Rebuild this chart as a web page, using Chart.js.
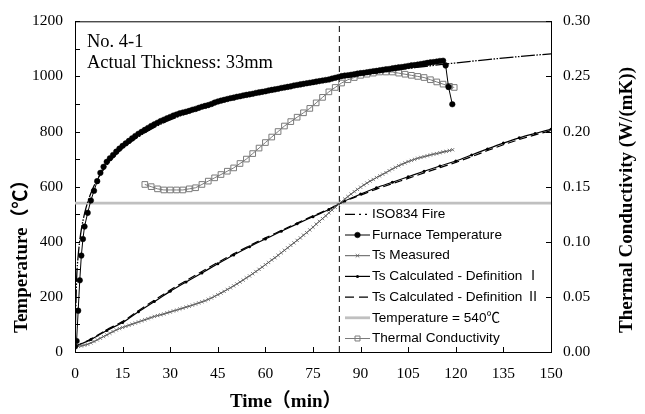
<!DOCTYPE html>
<html>
<head>
<meta charset="utf-8">
<script src="https://cdn.jsdelivr.net/npm/chart.js@4.4.0/dist/chart.umd.min.js"></script>
<style>
  html, body { margin: 0; padding: 0; background: #fff; }
  #wrap { width: 645px; height: 414px; }
</style>
</head>
<body>
<div id="wrap"><canvas id="chart" width="645" height="414"></canvas></div>
<script>
// ---- data (time in min, temperature in °C, conductivity in W/(mK)) ----
const isoTime = [0, 0.5, 1, 1.5, 2, 3, 4, 5, 6, 8, 10, 12, 15, 20, 25, 30, 40, 50, 60, 70, 80, 90, 100, 110, 120, 130, 140, 150];
const isoTemp = [20, 261, 349, 404, 445, 502, 544, 576, 603, 645, 678, 705, 739, 781, 815, 842, 885, 918, 945, 968, 988, 1006, 1022, 1036, 1049, 1061, 1072, 1082];

const furnaceTime = [0, 0.5, 1, 1.5, 2, 2.5, 3, 4, 5, 6, 7, 8, 9,
  10, 11, 12, 13, 14, 15, 16, 17, 18, 19, 20, 21, 22, 23, 24, 25, 26, 27, 28, 29, 30,
  31, 32, 33, 34, 35, 36, 37, 38, 39, 40, 41, 42, 43, 44, 45, 46, 47, 48, 49, 50,
  51, 52, 53, 54, 55, 56, 57, 58, 59, 60, 61, 62, 63, 64, 65, 66, 67, 68, 69, 70,
  71, 72, 73, 74, 75, 76, 77, 78, 79, 80, 81, 82, 83, 84, 85, 86, 87, 88, 89, 90,
  91, 92, 93, 94, 95, 96, 97, 98, 99, 100, 101, 102, 103, 104, 105, 106, 107, 108, 109, 110,
  111, 112, 113, 114, 115, 116, 116.8, 117.7, 118.9];
const furnaceTemp = [20, 40, 150, 260, 350, 410, 455, 505, 550, 585, 620, 650, 672,
  690, 703, 715, 727, 738, 748, 757, 766, 775, 784, 792, 799, 806, 813, 820, 826, 832, 838, 843, 848, 853,
  858, 862, 866, 869, 872, 875, 879, 882, 886, 890, 893, 896, 900, 905, 909, 912, 915, 918, 921, 923,
  926, 928, 931, 933, 935, 937, 940, 942, 944, 946, 949, 951, 953, 955, 958, 960, 962, 964, 967, 969,
  971, 973, 975, 977, 979, 981, 983, 985, 987, 989, 992, 995, 998, 1001, 1003, 1004, 1006, 1008, 1010, 1012,
  1013, 1015, 1017, 1019, 1020, 1022, 1024, 1026, 1027, 1029, 1031, 1033, 1034, 1036, 1038, 1040, 1041, 1043, 1045, 1047,
  1049, 1051, 1052, 1054, 1056, 1057, 1040, 962, 899];

// surface temperature logged once a minute from t = 0
const measuredTemp = [20, 21, 22, 25, 28, 33, 38, 44, 50, 56, 62, 68, 74, 80, 85, 89, 93, 97, 101, 105,
  109, 113, 117, 121, 125, 129, 132, 135, 138, 142, 145, 149, 152, 156, 159, 163, 166, 170, 174, 178,
  182, 186, 191, 196, 202, 208, 214, 220, 227, 233, 240, 247, 254, 261, 269, 276, 284, 292, 300, 308,
  317, 325, 334, 342, 351, 360, 369, 378, 387, 396, 405, 414, 424, 433, 443, 453, 464, 474, 484, 494,
  505, 515, 525, 535, 545, 555, 564, 573, 582, 590, 598, 606, 613, 620, 626, 633, 639, 645, 651, 658,
  664, 670, 676, 681, 686, 691, 695, 699, 703, 706, 709, 712, 715, 718, 720, 723, 726, 728, 731, 734];

const calcTime = [0, 5, 10, 15, 20, 25, 30, 35, 40, 45, 50, 55, 60, 65, 70, 75, 80, 85, 90, 95, 100,
  105, 110, 115, 120, 125, 130, 135, 140, 145, 150];
const calcTempI = [20, 45, 78, 107, 146, 183, 220, 254, 287, 320, 352, 382, 410, 438, 465, 491, 517, 548, 573, 596, 616,
  636, 656, 675, 693, 715, 737, 758, 777, 793, 808];
const calcTempII = [20, 47, 81, 111, 150, 188, 225, 259, 292, 325, 356, 386, 414, 441, 468, 494, 519, 547, 569, 591, 611,
  630, 650, 669, 688, 709, 731, 752, 771, 788, 803];

const condTime = [22, 24, 26, 28, 30, 32, 34, 36, 38, 40, 42, 44, 46, 48, 50, 52, 54, 56, 58, 60, 62, 64, 66, 68, 70,
  72, 74, 76, 78, 80, 82, 84, 86, 88, 90, 92, 94, 96, 98, 100, 102, 104, 106, 108, 110, 112, 114, 116, 118, 119.5];
const condValue = [0.152, 0.150, 0.148, 0.147, 0.147, 0.147, 0.147, 0.148, 0.149, 0.152, 0.155, 0.158, 0.161, 0.164, 0.167,
  0.171, 0.175, 0.180, 0.185, 0.190, 0.195, 0.200, 0.205, 0.209, 0.213, 0.217, 0.221, 0.226, 0.231, 0.236, 0.240,
  0.244, 0.247, 0.249, 0.251, 0.252, 0.253, 0.254, 0.254, 0.254, 0.253, 0.252, 0.251, 0.250, 0.249, 0.247, 0.245,
  0.243, 0.241, 0.240];

const criticalTemp = 540;
const criticalTime = 83.3;
const timeRange = [0, 150];
const tempRange = [0, 1200];
const condRange = [0, 0.30];

const SERIF = "'Liberation Serif', 'Times New Roman', 'Noto Sans CJK SC', serif";
const SANS = "'Liberation Sans', Arial, 'Noto Sans CJK SC', sans-serif";

const pairs = (xs, ys) => xs.map((x, i) => ({ x: x, y: ys[i] }));
const perMinute = ys => ys.map((y, i) => ({ x: i, y: y }));

// inward tick marks, top frame line, axis titles, annotation
const framePlugin = {
    id: 'frame',
    afterDraw(chart) {
        const { ctx, chartArea: a, scales } = chart;
        ctx.save();
        ctx.strokeStyle = '#000';
        ctx.lineWidth = 1;
        ctx.beginPath();
        ctx.moveTo(a.left, a.top + 0.5);
        ctx.lineTo(a.right, a.top + 0.5);
        scales.x.ticks.forEach(t => {
            const px = Math.round(scales.x.getPixelForValue(t.value)) + 0.5;
            ctx.moveTo(px, a.bottom);
            ctx.lineTo(px, a.bottom - 5);
        });
        scales.y.ticks.forEach(t => {
            const py = Math.round(scales.y.getPixelForValue(t.value)) + 0.5;
            ctx.moveTo(a.left, py);
            ctx.lineTo(a.left + 5, py);
        });
        scales.y1.ticks.forEach(t => {
            const py = Math.round(scales.y1.getPixelForValue(t.value)) + 0.5;
            ctx.moveTo(a.right, py);
            ctx.lineTo(a.right - 5, py);
        });
        ctx.stroke();

        ctx.fillStyle = '#000';
        ctx.textBaseline = 'alphabetic';
        ctx.font = '18.5px ' + SERIF;
        ctx.textAlign = 'left';
        ctx.fillText('No. 4-1', a.left + 12, 46.5);
        ctx.fillText('Actual Thickness: 33mm', a.left + 12, 67.5);

        ctx.font = 'bold 19px ' + SERIF;
        ctx.textBaseline = 'middle';
        ctx.fillText('Time（min）', 230, 402);

        ctx.save();
        ctx.translate(22, 333);
        ctx.rotate(-Math.PI / 2);
        ctx.fillText('Temperature（℃）', 0, 0);
        ctx.restore();

        ctx.save();
        ctx.translate(627, 333);
        ctx.rotate(-Math.PI / 2);
        ctx.fillText('Thermal Conductivity (W/(mK))', 0, 0);
        ctx.restore();
        ctx.restore();
    }
};

// legend drawn inside the plot, symbols taken from the datasets
const legendPlugin = {
    id: 'insideLegend',
    afterDatasetsDraw(chart) {
        const { ctx, chartArea: a } = chart;
        const x0 = a.left + 270, x1 = x0 + 25, tx = x1 + 2;
        let y = 214.3;
        ctx.save();
        ctx.font = '13.6px ' + SANS;
        ctx.textBaseline = 'middle';
        ctx.textAlign = 'left';
        chart.data.datasets.forEach(ds => {
            if (!ds.label) return;
            ctx.save();
            ctx.strokeStyle = ds.borderColor;
            ctx.lineWidth = ds.borderWidth;
            ctx.setLineDash(ds.legendDash || ds.borderDash || []);
            ctx.beginPath();
            ctx.moveTo(x0, y);
            ctx.lineTo(x1, y);
            ctx.stroke();
            ctx.setLineDash([]);
            if (ds.pointRadius > 0) {
                ctx.fillStyle = ds.pointBackgroundColor;
                ctx.strokeStyle = ds.pointBorderColor;
                ctx.lineWidth = ds.pointBorderWidth;
                Chart.helpers.drawPoint(ctx, {
                    pointStyle: ds.pointStyle || 'circle',
                    radius: ds.legendRadius || ds.pointRadius,
                    borderWidth: ds.pointBorderWidth,
                    rotation: 0
                }, (x0 + x1) / 2, y);
            }
            ctx.restore();
            ctx.fillStyle = '#000';
            ctx.fillText(ds.label, tx, y);
            y += 20.7;
        });
        ctx.restore();
    }
};

const tickFont = { family: SERIF, size: 15.5 };

new Chart(document.getElementById('chart'), {
    type: 'line',
    data: {
        datasets: [
            {
                label: 'ISO834 Fire',
                data: pairs(isoTime, isoTemp),
                borderColor: '#000', borderWidth: 1.3,
                borderDash: [14, 1.5, 1.5, 1.5, 1.5, 1.5], legendDash: [10, 4, 2, 4, 2, 4],
                pointRadius: 0, cubicInterpolationMode: 'monotone', yAxisID: 'y'
            },
            {
                label: 'Furnace Temperature',
                data: pairs(furnaceTime, furnaceTemp),
                borderColor: '#000', borderWidth: 1,
                pointRadius: 2.8, pointStyle: 'circle',
                pointBackgroundColor: '#000', pointBorderColor: '#000', pointBorderWidth: 0.5,
                yAxisID: 'y'
            },
            {
                label: 'Ts Measured',
                data: perMinute(measuredTemp),
                borderColor: '#5a5a5a', borderWidth: 1,
                pointRadius: 2.3, pointStyle: 'crossRot', legendRadius: 2.5,
                pointBackgroundColor: '#5a5a5a', pointBorderColor: '#5a5a5a', pointBorderWidth: 0.8,
                yAxisID: 'y'
            },
            {
                label: 'Ts Calculated - Definition Ⅰ',
                data: pairs(calcTime, calcTempI),
                borderColor: '#000', borderWidth: 1.2,
                pointRadius: 1.5, pointStyle: 'circle',
                pointBackgroundColor: '#000', pointBorderColor: '#000', pointBorderWidth: 0,
                cubicInterpolationMode: 'monotone', yAxisID: 'y'
            },
            {
                label: 'Ts Calculated - Definition Ⅱ',
                data: pairs(calcTime, calcTempII),
                borderColor: '#000', borderWidth: 1.2,
                borderDash: [8, 4], legendDash: [9, 5],
                pointRadius: 0, cubicInterpolationMode: 'monotone', yAxisID: 'y'
            },
            {
                label: 'Temperature = 540℃',
                data: [{ x: timeRange[0], y: criticalTemp }, { x: timeRange[1], y: criticalTemp }],
                borderColor: '#c0c0c0', borderWidth: 2.8,
                pointRadius: 0, yAxisID: 'y'
            },
            {
                label: 'Thermal Conductivity',
                data: pairs(condTime, condValue),
                borderColor: '#7a7a7a', borderWidth: 1,
                pointRadius: 4, pointStyle: 'rect', legendRadius: 3.5,
                pointBackgroundColor: 'rgba(255,255,255,0)', pointBorderColor: '#7a7a7a', pointBorderWidth: 1,
                yAxisID: 'y1'
            },
            {
                label: '',
                data: [{ x: criticalTime, y: tempRange[0] }, { x: criticalTime, y: tempRange[1] }],
                borderColor: '#000', borderWidth: 1, borderDash: [6, 4],
                pointRadius: 0, yAxisID: 'y'
            }
        ]
    },
    options: {
        responsive: false,
        animation: false,
        layout: { padding: { top: 12, left: 0, right: 0, bottom: 0 } },
        plugins: { legend: { display: false }, tooltip: { enabled: false } },
        scales: {
            x: {
                type: 'linear', min: timeRange[0], max: timeRange[1],
                grid: { display: false, drawTicks: false },
                border: { display: true, color: '#000', width: 1 },
                ticks: { stepSize: 15, padding: 13, color: '#000', font: tickFont, maxRotation: 0, autoSkip: false },
                afterFit(scale) { scale.height = 62; }
            },
            y: {
                position: 'left', min: tempRange[0], max: tempRange[1],
                grid: { display: false, drawTicks: false },
                border: { display: true, color: '#000', width: 1 },
                ticks: {
                    stepSize: 100, padding: 12, color: '#000', font: tickFont, autoSkip: false,
                    callback: v => (v % 200 === 0 ? String(v) : '')
                },
                afterFit(scale) { scale.width = 75; }
            },
            y1: {
                position: 'right', min: condRange[0], max: condRange[1],
                grid: { display: false, drawTicks: false },
                border: { display: true, color: '#000', width: 1 },
                ticks: {
                    stepSize: 0.05, padding: 12, color: '#000', font: tickFont, autoSkip: false,
                    callback: v => v.toFixed(2)
                },
                afterFit(scale) { scale.width = 94; }
            }
        }
    },
    plugins: [legendPlugin, framePlugin]
});
</script>
</body>
</html>
